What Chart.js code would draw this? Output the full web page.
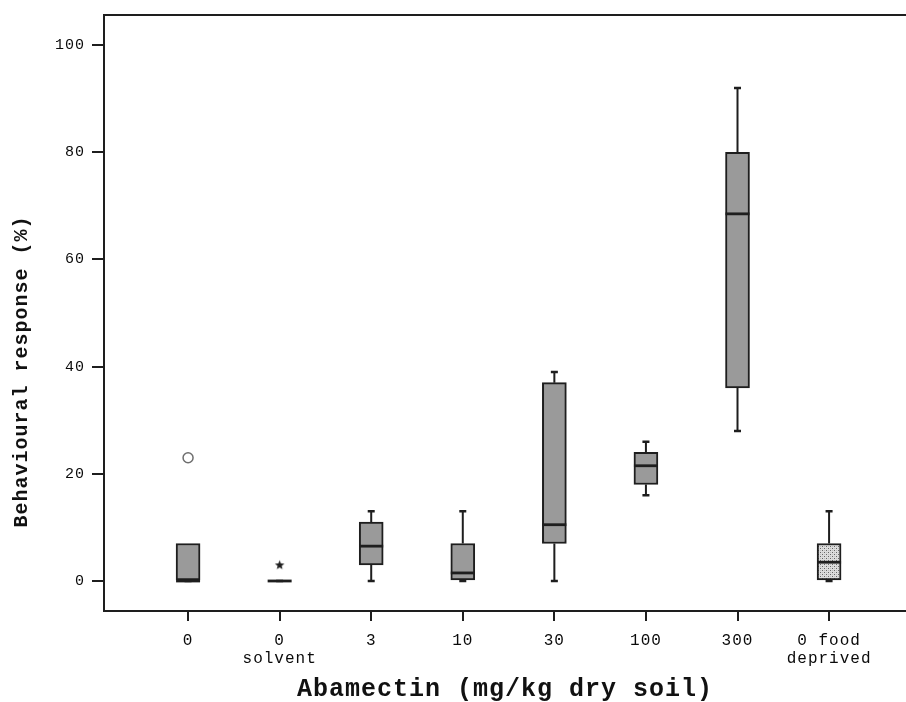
<!DOCTYPE html>
<html>
<head>
<meta charset="utf-8">
<script src="https://cdn.jsdelivr.net/npm/chart.js@4.4.1/dist/chart.umd.min.js"></script>
<style>
  html, body { margin: 0; padding: 0; background: #ffffff; }
  canvas { display: block; }
</style>
</head>
<body>
<canvas id="c" width="906" height="702"></canvas>
<script>
// ---- data ----
const categories = ['0', '0 solvent', '3', '10', '30', '100', '300', '0 food deprived'];
const xTickLabels = [['0'], ['0', 'solvent'], ['3'], ['10'], ['30'], ['100'], ['300'], ['0 food', 'deprived']];
const yTickValues = [0, 20, 40, 60, 80, 100];
const q1 = [0, 0, 3, 0, 7, 18, 36, 0];
const q3 = [7, 0, 11, 7, 37, 24, 80, 7];
const medians = [0, 0, 6.5, 1.5, 10.5, 21.5, 68.5, 3.5];
const whiskerLow = [0, 0, 0, 0, 0, 16, 28, 0];
const whiskerHigh = [7, 0, 13, 13, 39, 26, 92, 13];
const outlierX = [0];
const outlierY = [23];
const extremeX = [1];
const extremeY = [3];

// dotted pattern for the food-deprived box
function makePattern() {
  const p = document.createElement('canvas');
  p.width = 4; p.height = 4;
  const g = p.getContext('2d');
  g.fillStyle = '#dcdcdc'; g.fillRect(0, 0, 4, 4);
  g.fillStyle = '#666666';
  g.fillRect(0, 0, 1, 1); g.fillRect(2, 2, 1, 1);
  g.fillStyle = '#bdbdbd';
  g.fillRect(2, 0, 1, 1); g.fillRect(0, 2, 1, 1);
  return document.getElementById('c').getContext('2d').createPattern(p, 'repeat');
}
const pattern = makePattern();
const boxFill = categories.map((c, i) => i === 7 ? pattern : '#9a9a9a');

// small five-pointed star marker for extreme values
function makeStar() {
  const s = document.createElement('canvas');
  s.width = 11; s.height = 11;
  const g = s.getContext('2d');
  g.fillStyle = '#1e1e1e';
  g.beginPath();
  for (let k = 0; k < 10; k++) {
    const r = k % 2 === 0 ? 5 : 2.1;
    const a = -Math.PI / 2 + k * Math.PI / 5;
    const px = 5.5 + r * Math.cos(a), py = 5.8 + r * Math.sin(a);
    if (k === 0) g.moveTo(px, py); else g.lineTo(px, py);
  }
  g.closePath();
  g.fill();
  return s;
}
const starMarker = makeStar();

const INK = '#1e1e1e';
const FONT = "'Liberation Mono', 'Courier New', monospace";

const boxPlugin = {
  id: 'boxParts',
  beforeDraw(chart) { try { chart.ctx.letterSpacing = '1px'; } catch (e) {} },
  afterDatasetsDraw(chart) {
    const ctx = chart.ctx, xs = chart.scales.x, ys = chart.scales.y;
    const half = 12, cap = 3.5;
    ctx.save();
    ctx.strokeStyle = INK;
    ctx.lineCap = 'butt';
    categories.forEach((c, i) => {
      const cx = xs.getPixelForValue(i);
      // whiskers
      ctx.lineWidth = 2;
      ctx.beginPath();
      if (whiskerHigh[i] > q3[i]) {
        ctx.moveTo(cx, ys.getPixelForValue(q3[i]));
        ctx.lineTo(cx, ys.getPixelForValue(whiskerHigh[i]));
      }
      if (whiskerLow[i] < q1[i]) {
        ctx.moveTo(cx, ys.getPixelForValue(q1[i]));
        ctx.lineTo(cx, ys.getPixelForValue(whiskerLow[i]));
      }
      ctx.stroke();
      // caps
      ctx.lineWidth = 2.5;
      ctx.beginPath();
      const pl = ys.getPixelForValue(whiskerLow[i]);
      ctx.moveTo(cx - cap, pl); ctx.lineTo(cx + cap, pl);
      if (whiskerHigh[i] > q3[i]) {
        const ph = ys.getPixelForValue(whiskerHigh[i]);
        ctx.moveTo(cx - cap, ph); ctx.lineTo(cx + cap, ph);
      }
      ctx.stroke();
      // median
      ctx.lineWidth = 2.8;
      ctx.beginPath();
      const my = ys.getPixelForValue(medians[i]);
      ctx.moveTo(cx - half, my); ctx.lineTo(cx + half, my);
      ctx.stroke();
    });
    // top frame line
    const a = chart.chartArea;
    ctx.lineWidth = 2;
    ctx.beginPath();
    ctx.moveTo(a.left - 1, a.top);
    ctx.lineTo(a.right, a.top);
    ctx.stroke();
    ctx.restore();
  }
};

new Chart(document.getElementById('c'), {
  type: 'bar',
  data: {
    datasets: [
      {
        type: 'bar',
        data: categories.map((c, i) => ({ x: i, y: [q1[i], q3[i]] })),
        backgroundColor: boxFill,
        borderColor: INK,
        borderWidth: 2,
        borderSkipped: false,
        barThickness: 24,
        order: 2
      },
      {
        type: 'scatter',
        data: outlierX.map((x, i) => ({ x: x, y: outlierY[i] })),
        pointStyle: 'circle',
        pointRadius: 5,
        backgroundColor: '#ffffff',
        borderColor: '#6e6e6e',
        borderWidth: 1.5,
        order: 1
      },
      {
        type: 'scatter',
        data: extremeX.map((x, i) => ({ x: x, y: extremeY[i] })),
        pointStyle: starMarker,
        pointRadius: 5,
        order: 1
      }
    ]
  },
  options: {
    responsive: false,
    animation: false,
    devicePixelRatio: 1,
    layout: { autoPadding: false, padding: { top: 15, left: 0, right: 0, bottom: 0 } },
    plugins: { legend: { display: false }, tooltip: { enabled: false }, title: { display: false } },
    scales: {
      x: {
        type: 'linear',
        min: -0.918,
        max: 7.84,
        offset: false,
        afterBuildTicks: s => { s.ticks = categories.map((c, i) => ({ value: i })); },
        afterFit: s => { s.height = 91; s.paddingLeft = 0; s.paddingRight = 0; },
        grid: { offset: false, drawOnChartArea: false, drawTicks: true, tickLength: 10, color: INK, lineWidth: 2 },
        border: { display: true, color: INK, width: 2 },
        ticks: {
          autoSkip: false, maxRotation: 0, minRotation: 0, padding: 11,
          color: '#0a0a0a',
          font: { family: FONT, size: 16, lineHeight: 1.1 },
          callback: v => xTickLabels[v]
        },
        title: {
          display: true,
          text: 'Abamectin (mg/kg dry soil)',
          color: '#111111',
          font: { family: FONT, size: 25, weight: 'bold', lineHeight: 1 },
          padding: { top: 0, bottom: 0 }
        }
      },
      y: {
        type: 'linear',
        min: -5.6,
        max: 105.6,
        afterBuildTicks: s => { s.ticks = yTickValues.map(v => ({ value: v })); },
        afterFit: s => { s.width = 104; s.paddingTop = 0; s.paddingBottom = 0; },
        grid: { drawOnChartArea: false, drawTicks: true, tickLength: 12, color: INK, lineWidth: 2 },
        border: { display: true, color: INK, width: 2 },
        ticks: {
          padding: 7,
          color: '#0a0a0a',
          font: { family: FONT, size: 15 }
        },
        title: {
          display: true,
          text: 'Behavioural response (%)         ',
          color: '#111111',
          font: { family: FONT, size: 20, weight: 'bold', lineHeight: 1.2 },
          padding: { top: 10, bottom: 0 }
        }
      }
    }
  },
  plugins: [boxPlugin]
});
</script>
</body>
</html>
